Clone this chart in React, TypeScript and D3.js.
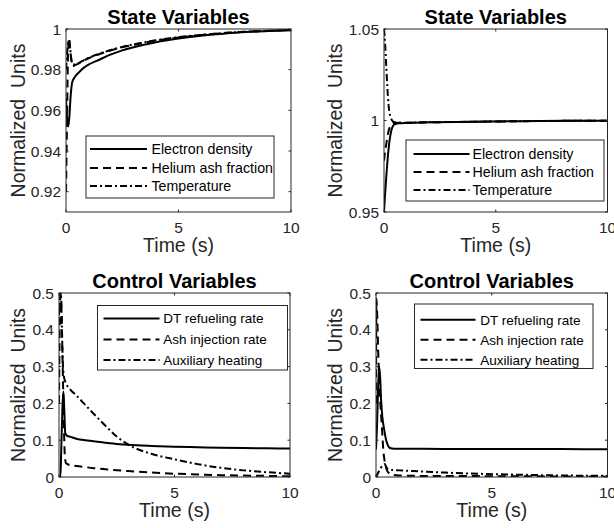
import React from 'react';
import * as d3 from 'd3';

// ---------- Panel A (top-left): State Variables ----------
const tA_ne = [0, 0.05, 0.1, 0.15, 0.2, 0.28, 0.4, 0.6, 0.8, 1, 1.5, 2, 2.5, 3, 4, 5, 6, 7, 8, 9, 10];
const A_ne = [0.966, 0.956, 0.952, 0.957, 0.966, 0.974, 0.9765, 0.979, 0.981, 0.9825, 0.985, 0.9875, 0.9895, 0.991, 0.9935, 0.9953, 0.9967, 0.9977, 0.9985, 0.999, 0.9994];
const tA_he = [0, 0.04, 0.08, 0.13, 0.18, 0.24, 0.3, 0.4, 0.6, 0.8, 1, 1.5, 2, 2.5, 3, 4, 5, 6, 7, 8, 9, 10];
const A_he = [0.92, 0.95, 0.982, 0.9955, 0.991, 0.984, 0.9818, 0.9822, 0.9832, 0.9845, 0.9856, 0.9877, 0.9895, 0.991, 0.9922, 0.9943, 0.9958, 0.997, 0.998, 0.9987, 0.9991, 0.9995];
const tA_T = [0, 0.04, 0.08, 0.13, 0.18, 0.24, 0.3, 0.4, 0.6, 0.8, 1, 1.5, 2, 2.5, 3, 4, 5, 6, 7, 8, 9, 10];
const A_T = [0.98, 0.986, 0.992, 0.9945, 0.991, 0.985, 0.9825, 0.9826, 0.9835, 0.9847, 0.9858, 0.9879, 0.9897, 0.9912, 0.9924, 0.9945, 0.996, 0.9971, 0.998, 0.9987, 0.9991, 0.9995];

// ---------- Panel B (top-right): State Variables ----------
const tB_ne = [0, 0.05, 0.1, 0.15, 0.2, 0.3, 0.4, 0.5, 0.7, 1, 2, 4, 6, 8, 10];
const B_ne = [0.95, 0.96, 0.969, 0.977, 0.984, 0.993, 0.997, 0.998, 0.9985, 0.9987, 0.999, 0.9993, 0.9996, 0.9998, 0.9999];
const tB_he = [0, 0.05, 0.1, 0.15, 0.2, 0.3, 0.4, 0.5, 0.7, 1, 2, 4, 6, 8, 10];
const B_he = [0.978, 0.983, 0.987, 0.991, 0.994, 0.9972, 0.9984, 0.9987, 0.9988, 0.9988, 0.999, 0.9993, 0.9996, 0.9998, 0.9999];
const tB_T = [0, 0.05, 0.1, 0.15, 0.2, 0.25, 0.3, 0.35, 0.4, 0.5, 0.7, 1, 2, 4, 6, 8, 10];
const B_T = [1.05, 1.042, 1.03, 1.018, 1.009, 1.004, 1.0015, 1.0003, 0.9994, 0.999, 0.9988, 0.9988, 0.999, 0.9993, 0.9996, 0.9998, 0.9999];

// ---------- Panel C (bottom-left): Control Variables ----------
const tC_dt = [0, 0.06, 0.1, 0.15, 0.19, 0.23, 0.27, 0.35, 0.5, 0.75, 1, 1.5, 2, 2.5, 3, 4, 5, 6, 7, 8, 9, 10];
const C_dt = [0, 0, 0.08, 0.19, 0.232, 0.18, 0.12, 0.112, 0.109, 0.104, 0.101, 0.097, 0.093, 0.09, 0.0875, 0.0845, 0.0825, 0.081, 0.0795, 0.0785, 0.078, 0.0775];
const tC_ash = [0, 0.03, 0.07, 0.1, 0.15, 0.2, 0.25, 0.3, 0.4, 0.6, 1, 1.5, 2, 3, 4, 5, 6, 7, 8, 9, 10];
const C_ash = [0.2, 0.4, 0.495, 0.47, 0.33, 0.18, 0.06, 0.038, 0.034, 0.031, 0.028, 0.024, 0.021, 0.016, 0.012, 0.009, 0.007, 0.005, 0.004, 0.003, 0.002];
const tC_aux = [0, 0.04, 0.08, 0.12, 0.16, 0.22, 0.3, 0.5, 0.75, 1, 1.5, 2, 2.5, 3, 4, 5, 6, 7, 8, 9, 10];
const C_aux = [0.44, 0.48, 0.5, 0.42, 0.32, 0.27, 0.255, 0.237, 0.222, 0.205, 0.172, 0.14, 0.11, 0.088, 0.063, 0.048, 0.035, 0.025, 0.018, 0.013, 0.009];

// ---------- Panel D (bottom-right): Control Variables ----------
const tD_dt = [0, 0.05, 0.1, 0.14, 0.18, 0.22, 0.28, 0.35, 0.42, 0.5, 0.6, 0.8, 1, 2, 4, 6, 8, 10];
const D_dt = [0.075, 0.15, 0.26, 0.3, 0.27, 0.21, 0.16, 0.13, 0.105, 0.088, 0.079, 0.077, 0.0768, 0.0765, 0.0762, 0.076, 0.0758, 0.0756];
const tD_ash = [0, 0.02, 0.06, 0.1, 0.17, 0.25, 0.32, 0.4, 0.5, 0.7, 1, 2, 4, 6, 8, 10];
const D_ash = [0.2, 0.485, 0.42, 0.33, 0.22, 0.14, 0.07, 0.035, 0.015, 0.006, 0.004, 0.003, 0.0025, 0.002, 0.0015, 0.001];
const tD_aux = [0, 0.1, 0.2, 0.3, 0.38, 0.45, 0.55, 0.7, 1, 2, 3, 4, 5, 6, 7, 8, 9, 10];
const D_aux = [0, 0.012, 0.024, 0.032, 0.035, 0.026, 0.021, 0.019, 0.018, 0.015, 0.012, 0.0095, 0.0078, 0.0064, 0.0052, 0.0042, 0.0035, 0.003];

// ---------- Labels & ticks ----------
const stateNames = ['Electron density', 'Helium ash fraction', 'Temperature'];
const controlNames = ['DT refueling rate', 'Ash injection rate', 'Auxiliary heating'];
const titles = ['State Variables', 'State Variables', 'Control Variables', 'Control Variables'];
const xTicks = [0, 5, 10];
const yTicksA = [0.92, 0.94, 0.96, 0.98, 1];
const yTicksB = [0.95, 1, 1.05];
const yTicksC = [0, 0.1, 0.2, 0.3, 0.4, 0.5];
const xLabel = 'Time (s)';
const yLabel = 'Normalized  Units';

const FONT = '"Liberation Sans", Arial, Helvetica, sans-serif';
const AX = '#262626';
const DASHES = ['none', '8,5', '7,3,2,3'];

type Series = { t: number[]; v: number[] };

type PanelCfg = {
  title: string;
  x0: number; x1: number; y0: number; y1: number;
  yDomain: [number, number];
  yTicks: number[];
  series: Series[];
  names: string[];
  legend: { x: number; y: number; w: number; h: number; rows: number[]; lx0: number; lx1: number; tx: number; fs: number };
  ylabX: number;
};

const panels: PanelCfg[] = [
  {
    title: titles[0], x0: 66, x1: 291, y0: 29, y1: 212, yDomain: [0.91, 1], yTicks: yTicksA,
    series: [{ t: tA_ne, v: A_ne }, { t: tA_he, v: A_he }, { t: tA_T, v: A_T }], names: stateNames,
    legend: { x: 86, y: 136, w: 188, h: 62, rows: [149, 168, 186], lx0: 90, lx1: 147, tx: 151.5, fs: 14.2 },
    ylabX: 25,
  },
  {
    title: titles[1], x0: 384, x1: 607.5, y0: 29, y1: 212, yDomain: [0.95, 1.05], yTicks: yTicksB,
    series: [{ t: tB_ne, v: B_ne }, { t: tB_he, v: B_he }, { t: tB_T, v: B_T }], names: stateNames,
    legend: { x: 406, y: 140, w: 198, h: 61, rows: [154, 172, 190], lx0: 413.5, lx1: 469.5, tx: 472.5, fs: 14.2 },
    ylabX: 342,
  },
  {
    title: titles[2], x0: 59, x1: 290, y0: 293, y1: 477, yDomain: [0, 0.5], yTicks: yTicksC,
    series: [{ t: tC_dt, v: C_dt }, { t: tC_ash, v: C_ash }, { t: tC_aux, v: C_aux }], names: controlNames,
    legend: { x: 97.5, y: 305.5, w: 190, h: 64.5, rows: [318.5, 339.5, 360], lx0: 103.5, lx1: 159.5, tx: 163.3, fs: 13.5 },
    ylabX: 25,
  },
  {
    title: titles[3], x0: 376, x1: 607.5, y0: 293, y1: 477, yDomain: [0, 0.5], yTicks: yTicksC,
    series: [{ t: tD_dt, v: D_dt }, { t: tD_ash, v: D_ash }, { t: tD_aux, v: D_aux }], names: controlNames,
    legend: { x: 414.5, y: 304, w: 178.5, h: 64.5, rows: [319.7, 339.7, 359.7], lx0: 420.5, lx1: 475.5, tx: 480.3, fs: 13.5 },
    ylabX: 342,
  },
];

const fmt = (v: number) => String(+v.toFixed(3));

function Panel({ cfg, idx }: { cfg: PanelCfg; idx: number }) {
  const x = d3.scaleLinear().domain([0, 10]).range([cfg.x0, cfg.x1]);
  const y = d3.scaleLinear().domain(cfg.yDomain).range([cfg.y1, cfg.y0]);
  const line = d3.line<[number, number]>().x(d => x(d[0])).y(d => y(d[1])).curve(d3.curveMonotoneX);
  const clipId = `clip${idx}`;
  const tl = 2.5;
  const cx = (cfg.x0 + cfg.x1) / 2;
  const cy = (cfg.y0 + cfg.y1) / 2;
  const L = cfg.legend;
  return (
    <g>
      <defs>
        <clipPath id={clipId}>
          <rect x={cfg.x0} y={cfg.y0} width={cfg.x1 - cfg.x0} height={cfg.y1 - cfg.y0} />
        </clipPath>
      </defs>
      <rect x={cfg.x0} y={cfg.y0} width={cfg.x1 - cfg.x0} height={cfg.y1 - cfg.y0} fill="#fff" />
      <g clipPath={`url(#${clipId})`}>
        {cfg.series.map((s, i) => (
          <path key={i} d={line(s.t.map((t, j) => [t, s.v[j]] as [number, number])) || ''}
            fill="none" stroke="#000" strokeWidth={2} strokeDasharray={DASHES[i]} strokeLinejoin="round" />
        ))}
      </g>
      {/* axes box */}
      <rect x={cfg.x0} y={cfg.y0} width={cfg.x1 - cfg.x0} height={cfg.y1 - cfg.y0} fill="none" stroke={AX} strokeWidth={1} />
      {/* x ticks */}
      {xTicks.map(t => (
        <g key={'x' + t}>
          <line x1={x(t)} x2={x(t)} y1={cfg.y1} y2={cfg.y1 - tl} stroke={AX} />
          <line x1={x(t)} x2={x(t)} y1={cfg.y0} y2={cfg.y0 + tl} stroke={AX} />
          <text x={x(t)} y={cfg.y1 + 21} textAnchor="middle" fontSize={15.5} fill={AX} fontFamily={FONT}>{fmt(t)}</text>
        </g>
      ))}
      {cfg.yTicks.map(t => (
        <g key={'y' + t}>
          <line x1={cfg.x0} x2={cfg.x0 + tl} y1={y(t)} y2={y(t)} stroke={AX} />
          <line x1={cfg.x1} x2={cfg.x1 - tl} y1={y(t)} y2={y(t)} stroke={AX} />
          <text x={cfg.x0 - 5} y={y(t)} dy="0.36em" textAnchor="end" fontSize={15.5} fill={AX} fontFamily={FONT}>{fmt(t)}</text>
        </g>
      ))}
      <text x={cx} y={cfg.y1 + 40} textAnchor="middle" fontSize={19.5} fill={AX} fontFamily={FONT}>{xLabel}</text>
      <text transform={`translate(${cfg.ylabX},${cy}) rotate(-90)`} textAnchor="middle" fontSize={19.5} fill={AX}
        fontFamily={FONT} style={{ whiteSpace: 'pre' }}>{yLabel}</text>
      <text x={cx} y={cfg.y0 - 5} textAnchor="middle" fontSize={20} fontWeight="bold" fill="#000" fontFamily={FONT}>{cfg.title}</text>
      {/* legend */}
      <rect x={L.x} y={L.y} width={L.w} height={L.h} fill="#fff" stroke={AX} strokeWidth={1} />
      {cfg.names.map((n, i) => (
        <g key={n}>
          <line x1={L.lx0} x2={L.lx1} y1={L.rows[i]} y2={L.rows[i]} stroke="#000" strokeWidth={2} strokeDasharray={DASHES[i]} />
          <text x={L.tx} y={L.rows[i]} dy="0.36em" fontSize={L.fs} fill="#000" fontFamily={FONT}>{n}</text>
        </g>
      ))}
    </g>
  );
}

export default function App() {
  return (
    <svg width={614} height={528} viewBox="0 0 614 528" style={{ position: 'absolute', left: 0, top: 0, background: '#fff' }}>
      <rect x={0} y={0} width={614} height={528} fill="#fff" />
      {panels.map((p, i) => <Panel key={i} cfg={p} idx={i} />)}
    </svg>
  );
}
